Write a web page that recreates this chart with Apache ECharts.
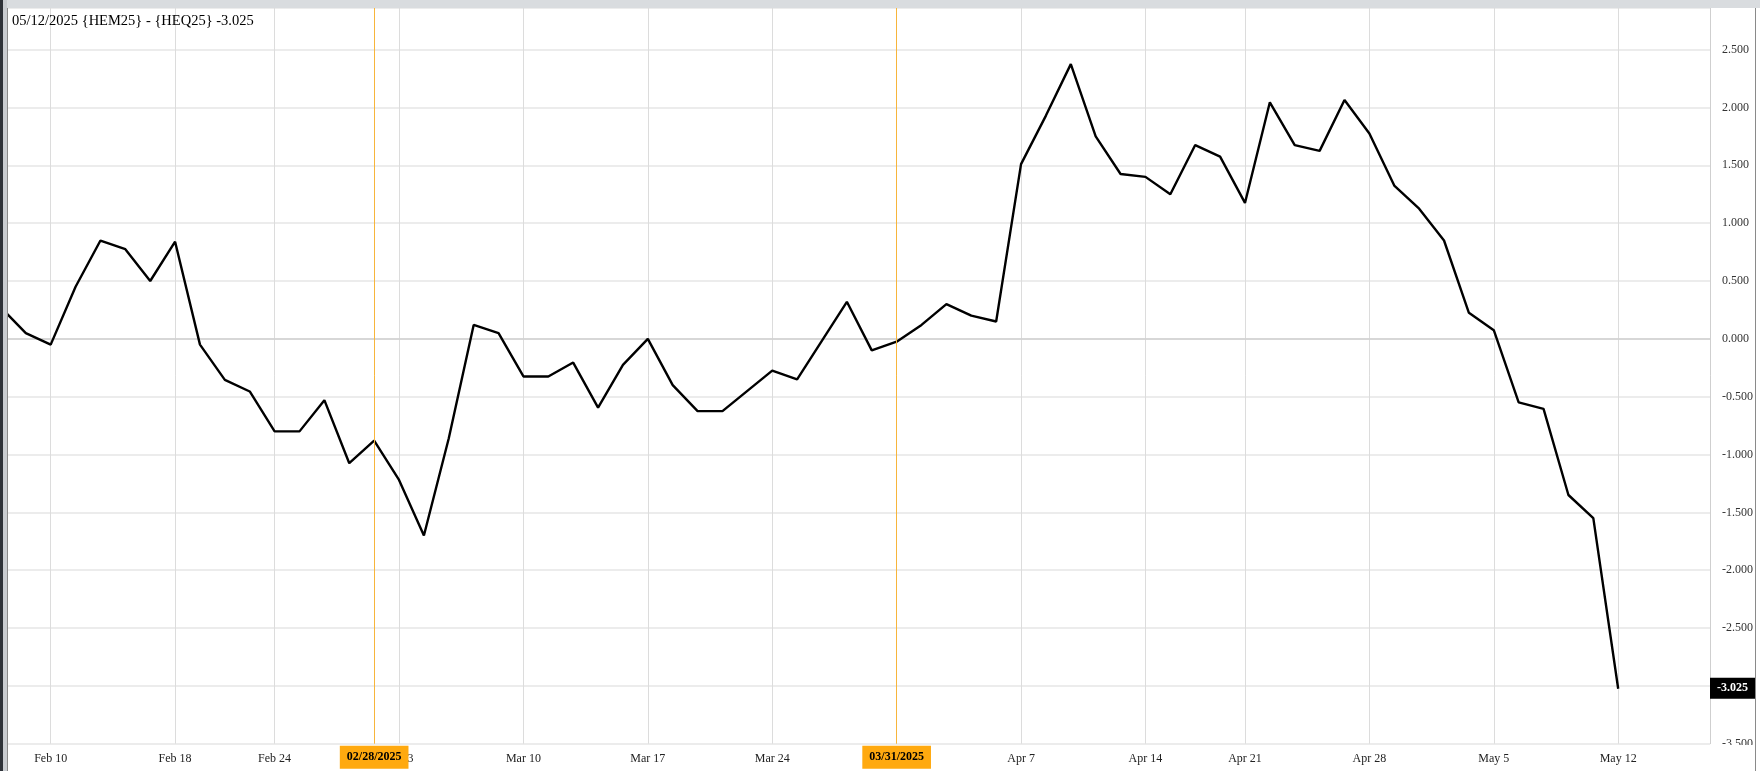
<!DOCTYPE html>
<html>
<head>
<meta charset="utf-8">
<script src="https://cdn.jsdelivr.net/npm/echarts@6/dist/echarts.min.js"></script>
<style>
html,body{margin:0;padding:0;background:#fff;}
#chart{width:1760px;height:771px;}
</style>
</head>
<body>
<div id="chart"></div>
<script>
// Trading days (holidays Feb 17 and Apr 18 absent)
const dates = ['Feb 6','Feb 7','Feb 10','Feb 11','Feb 12','Feb 13','Feb 14','Feb 18','Feb 19','Feb 20','Feb 21',
  'Feb 24','Feb 25','Feb 26','Feb 27','Feb 28','Mar 3','Mar 4','Mar 5','Mar 6','Mar 7',
  'Mar 10','Mar 11','Mar 12','Mar 13','Mar 14','Mar 17','Mar 18','Mar 19','Mar 20','Mar 21',
  'Mar 24','Mar 25','Mar 26','Mar 27','Mar 28','Mar 31','Apr 1','Apr 2','Apr 3','Apr 4',
  'Apr 7','Apr 8','Apr 9','Apr 10','Apr 11','Apr 14','Apr 15','Apr 16','Apr 17',
  'Apr 21','Apr 22','Apr 23','Apr 24','Apr 25','Apr 28','Apr 29','Apr 30','May 1','May 2',
  'May 5','May 6','May 7','May 8','May 9','May 12'];
const values = [0.27,0.05,-0.05,0.45,0.85,0.775,0.50,0.84,-0.05,-0.355,-0.455,
  -0.80,-0.80,-0.53,-1.075,-0.88,-1.22,-1.70,-0.86,0.12,0.05,
  -0.325,-0.325,-0.205,-0.595,-0.225,0.00,-0.40,-0.625,-0.625,-0.45,
  -0.275,-0.35,-0.015,0.32,-0.10,-0.025,0.12,0.30,0.20,0.15,
  1.51,1.93,2.375,1.75,1.425,1.40,1.25,1.675,1.575,
  1.175,2.045,1.675,1.625,2.065,1.775,1.325,1.125,0.85,0.225,
  0.075,-0.55,-0.605,-1.35,-1.55,-3.025];
const tickDates = ['Feb 10','Feb 18','Feb 24','Mar 3','Mar 10','Mar 17','Mar 24','Mar 31',
  'Apr 7','Apr 14','Apr 21','Apr 28','May 5','May 12'];
const markerDates = ['Feb 28','Mar 31'];
const markerLabels = ['02/28/2025','03/31/2025'];
const titleText = '05/12/2025 {HEM25} - {HEQ25} -3.025';
const lastLabel = '-3.025';
const yMin = -3.5, yMax = 2.86, yStep = 0.5;
const xMin = 0.284, xMax = 68.69;

const seriesData = values.map((v, i) => [i, v]);
const tickIdx = tickDates.map(d => dates.indexOf(d));
const serif = '"Liberation Serif","DejaVu Serif",serif';

const chart = echarts.init(document.getElementById('chart'));
chart.setOption({
  animation: false,
  backgroundColor: '#ffffff',
  title: {
    text: titleText, left: 12, top: 14, padding: 0,
    textStyle: {fontFamily: serif, fontSize: 14.5, fontWeight: 'normal', color: '#000'}
  },
  grid: {left: 8, right: 50, top: 8, bottom: 27.3, containLabel: false},
  xAxis: {
    type: 'value', min: xMin, max: xMax,
    axisLine: {show: true, lineStyle: {color: '#d0d0d0', width: 1.5}},
    axisTick: {show: false, customValues: tickIdx},
    axisLabel: {
      customValues: tickIdx, margin: 9,
      fontFamily: serif, fontSize: 12, color: '#222',
      formatter: v => dates[Math.round(v)]
    },
    splitLine: {show: true, lineStyle: {color: '#dcdcdc', width: 1}}
  },
  yAxis: {
    type: 'value', position: 'right', min: yMin, max: yMax, interval: yStep,
    axisLine: {show: true, lineStyle: {color: '#cfcfcf', width: 1}},
    axisTick: {show: false},
    axisLabel: {
      margin: 12, fontFamily: serif, fontSize: 12, color: '#333',
      showMaxLabel: false,
      formatter: v => v.toFixed(3)
    },
    splitLine: {show: true, lineStyle: {color: '#e6e6e6', width: 1.5}}
  },
  series: [{
    type: 'line',
    data: seriesData,
    showSymbol: false,
    symbol: 'none',
    clip: true,
    lineStyle: {color: '#000', width: 2.4},
    z: 3,
    markLine: {
      silent: true, symbol: 'none', animation: false,
      data: [
        ...markerDates.map((d, i) => ({
          xAxis: dates.indexOf(d),
          lineStyle: {color: '#f7b53b', width: 1, type: 'solid'},
          label: {
            show: true, position: 'start', distance: 2,
            formatter: markerLabels[i],
            backgroundColor: '#ffa90f', color: '#000',
            fontFamily: serif, fontSize: 12, fontWeight: 'bold',
            padding: [5, 7, 6, 7]
          }
        })),
        {
          yAxis: values[values.length - 1],
          lineStyle: {color: 'rgba(0,0,0,0)', width: 1, opacity: 1},
          label: {
            show: true, position: 'end', distance: 0,
            formatter: lastLabel,
            backgroundColor: '#000', color: '#fff', opacity: 1,
            fontFamily: serif, fontSize: 12, fontWeight: 'bold',
            padding: [5, 7, 4, 7]
          }
        }
      ]
    }
  }],
  graphic: [
    {type: 'rect', left: 0, top: 0, shape: {width: 1760, height: 8}, style: {fill: '#d9dcdf'}, z: 100},
    {type: 'rect', left: 0, top: 0, shape: {width: 3, height: 771}, style: {fill: '#2e3238'}, z: 100},
    {type: 'rect', left: 3, top: 0, shape: {width: 4, height: 771}, style: {fill: '#c9ccd0'}, z: 100},
    {type: 'rect', left: 7, top: 8, shape: {width: 1, height: 763}, style: {fill: '#8a8a8a'}, z: 100},
    {type: 'rect', left: 1712, top: 745, shape: {width: 42, height: 26}, style: {fill: '#fff'}, z: 90},
    {type: 'rect', left: 1755, top: 8, shape: {width: 1, height: 763}, style: {fill: '#8a8a8a'}, z: 100}
  ]
});
</script>
</body>
</html>
